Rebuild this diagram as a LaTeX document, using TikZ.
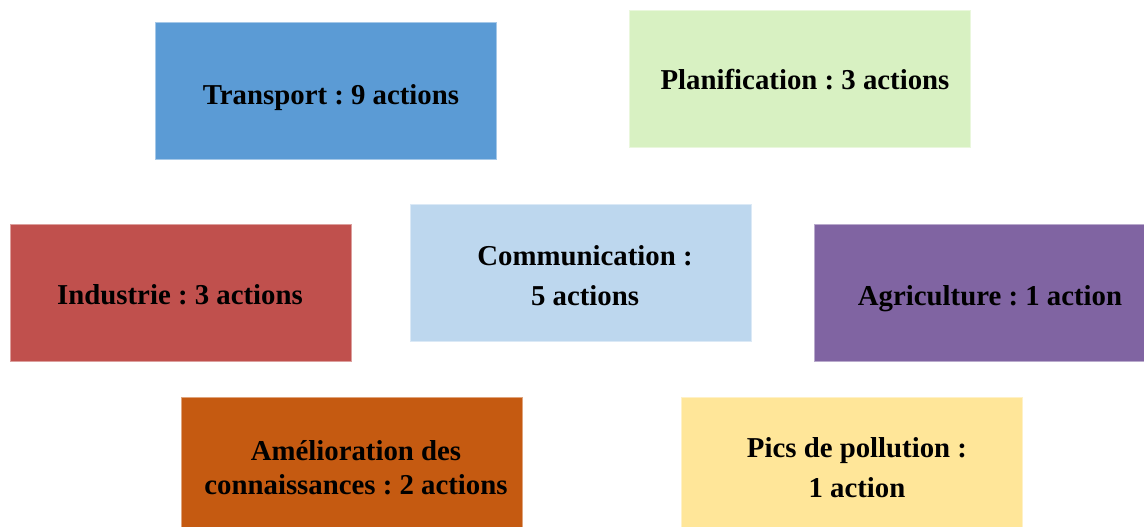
\documentclass[tikz,border=0pt]{standalone}
\usepackage{fontspec}
\setmainfont{Liberation Serif}
\frenchspacing
\definecolor{transportblue}{HTML}{5B9BD5}
\definecolor{planifgreen}{HTML}{D8F1C2}
\definecolor{industred}{HTML}{C0504D}
\definecolor{commblue}{HTML}{BDD7EE}
\definecolor{agripurple}{HTML}{8064A2}
\definecolor{amelorange}{HTML}{C55A11}
\definecolor{picsyellow}{HTML}{FFE699}
\begin{document}
\begin{tikzpicture}[x=1pt,y=1pt,
  box/.style={draw=#1!55!white,fill=#1,line width=1pt,
              minimum width=341pt,minimum height=137pt,inner sep=0pt},
  label/.style={font=\fontsize{28.8}{40}\selectfont\bfseries,align=center,
                anchor=base,inner sep=0pt}]
\useasboundingbox (0,0) rectangle (1144,527);
\clip (0,0) rectangle (1144,527);
\fill[white] (0,0) rectangle (1144,527);
% the seven coloured boxes
\foreach \name/\x/\y/\col in
  {transport/325.5/435.5/transportblue,
   planif/800/447.5/planifgreen,
   industrie/181/233.5/industred,
   comm/580.5/253.5/commblue,
   agri/984.5/234/agripurple,
   amel/351.5/60.5/amelorange,
   pics/852/60.5/picsyellow}
{
  \node[box=\col] (\name) at (\x,\y) {};
}
% their texts (base = last line)
\node[label] (transport-text) at (331,422) {Transport : 9 actions};
\node[label] (planif-text) at (805,437) {Planification : 3 actions};
\node[label] (industrie-text) at (180,222) {Industrie : 3 actions};
\node[label] (agri-text) at (990,221) {Agriculture : 1 action};
\node[label] (comm-text) at (585,221) {Communication :\\5 actions};
\node[label] (amel-text) at (356,32) {Amélioration des\\[-6pt]connaissances : 2 actions};
\node[label] (pics-text) at (857,29) {Pics de pollution :\\1 action};
\end{tikzpicture}
\end{document}
